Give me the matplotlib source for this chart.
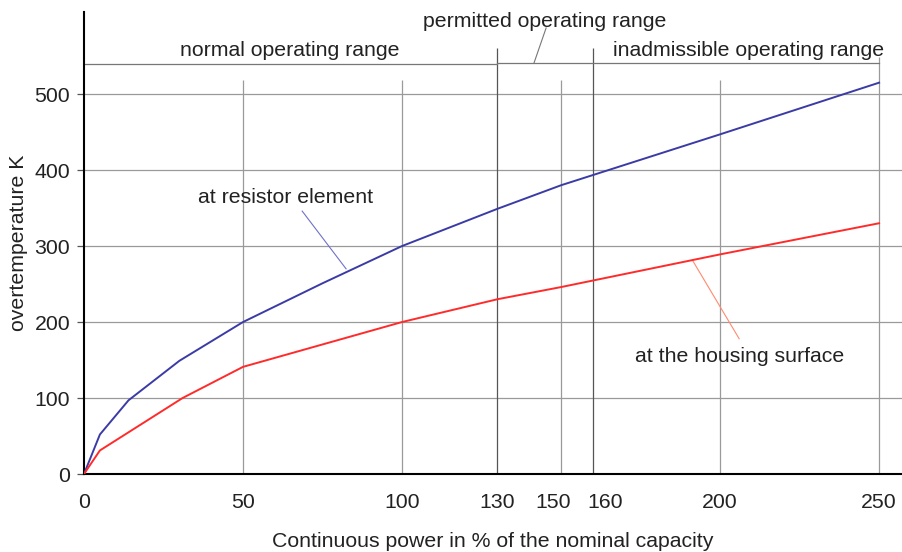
import numpy as np
import matplotlib.pyplot as plt
import matplotlib.transforms as mtrans

plt.rcParams['font.family'] = ['Liberation Sans', 'DejaVu Sans']

# data
power = [0, 5, 14, 30, 50, 75, 100, 130, 150, 200, 250]
t_element = [0, 52, 97, 149, 200, 251, 300, 349, 380, 447, 515]
power_h = [0, 5, 31, 50, 100, 130, 150, 200, 250]
t_housing = [0, 31, 100, 141, 200, 230, 246, 289, 330]
xticks = [0, 50, 100, 130, 150, 160, 200, 250]
yticks = [0, 100, 200, 300, 400, 500]

txt = '#222222'
grid = '#9a9a9a'
fs = 15.3

fig = plt.figure(figsize=(9.02, 5.52), dpi=100)
ax = fig.add_axes([84/902, 78/552, 818/902, 462/552])
ax.set_xlim(0, 257.2)
ax.set_ylim(0, 608)

# grid
ax.hlines([100, 200, 300, 400, 500], 0, 260, color=grid, lw=0.9, zorder=1)
ax.vlines([50, 100, 150, 200], 0, 518, color=grid, lw=0.9, zorder=1)
ax.vlines([130, 160], 0, 560, color='#555555', lw=0.9, zorder=1)
ax.vlines([250], 0, 549, color=grid, lw=0.9, zorder=1)

# range bars
ax.plot([0, 130], [539, 539], color='#777777', lw=0.9)
ax.plot([130, 250], [541, 541], color='#777777', lw=0.9)
ax.plot([141.5, 145.3], [541, 587], color='#777777', lw=0.8)
ax.text(64.8, 557, 'normal operating range', ha='center', va='center', fontsize=fs, color=txt)
ax.text(145, 596, 'permitted operating range', ha='center', va='center', fontsize=fs, color=txt)
ax.text(209, 557, 'inadmissible operating range', ha='center', va='center', fontsize=fs, color=txt)

# curves
ax.plot(power, t_element, color='#3b3ba6', lw=1.4, zorder=3)
ax.plot(power_h, t_housing, color='#ff2b2b', lw=1.4, zorder=3)

ax.plot([68.6, 82.4], [346, 270], color='#7070c8', lw=0.8)
ax.text(63.5, 364, 'at resistor element', ha='center', va='center', fontsize=fs, color=txt)
ax.plot([191.5, 206], [280, 178], color='#ff8a70', lw=0.8)
ax.text(206, 155, 'at the housing surface', ha='center', va='center', fontsize=fs, color=txt)

ax.set_xticks(xticks)
ax.set_yticks(yticks)
ax.tick_params(axis='x', length=0, pad=14, labelsize=fs, labelcolor=txt)
ax.tick_params(axis='y', length=5, width=0.9, color='#555555', pad=5, labelsize=fs, labelcolor=txt)

# nudge the crowded 150 / 160 labels apart, as in the original
for lab, dx in zip(ax.get_xticklabels(), [0, 0, 0, 0, -8, 12, 0, 0]):
    if dx:
        lab.set_transform(lab.get_transform() + mtrans.ScaledTranslation(dx / 100, 0, fig.dpi_scale_trans))

for s in ['top', 'right']:
    ax.spines[s].set_visible(False)
ax.spines['left'].set_linewidth(1.5)
ax.spines['bottom'].set_linewidth(1.5)
ax.spines['bottom'].set_bounds(0, 258)

ax.set_xlabel('Continuous power in % of the nominal capacity', fontsize=fs, color=txt, labelpad=14)
ax.set_ylabel('overtemperature K', fontsize=fs, color=txt, labelpad=5)

fig.savefig('out.png', dpi=100)
